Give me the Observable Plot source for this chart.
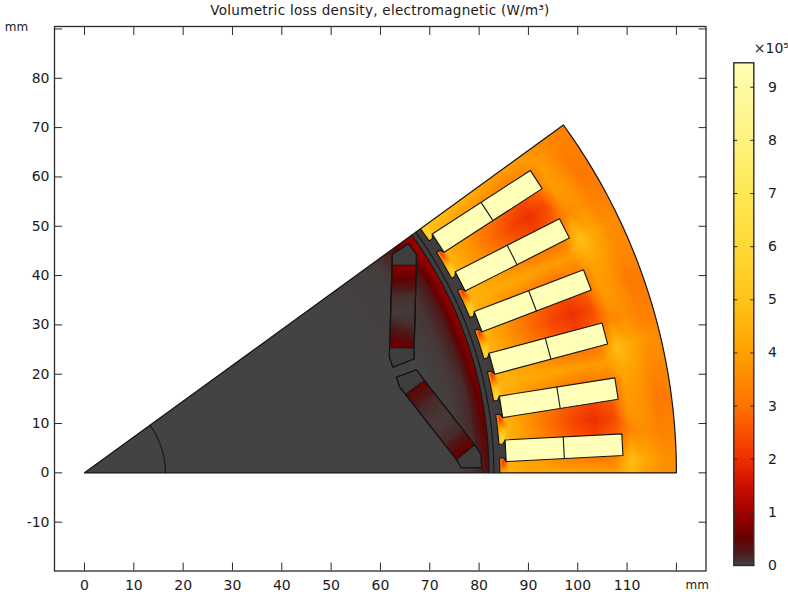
<!DOCTYPE html>
<html>
<head>
<meta charset="utf-8">
<script src="https://cdn.jsdelivr.net/npm/d3@7"></script>
<script src="https://cdn.jsdelivr.net/npm/@observablehq/plot@0.6"></script>
<style>
  html, body { margin: 0; padding: 0; background: #fff; }
  #page { position: relative; width: 788px; height: 592px; overflow: hidden; font-family: "DejaVu Sans", sans-serif; color: #1a1a1a; }
  #title { position: absolute; left: 0; top: 0; width: 760px; text-align: center; font-size: 13.5px; line-height: 20px; letter-spacing: .28px; }
  #main, #bar { position: absolute; top: 0; }
  #main { left: 0; } #bar { left: 722px; }
  svg { display: block; }
</style>
</head>
<body>
<div id="page"><div id="title">Volumetric loss density, electromagnetic (W/m³)</div><div id="main"></div><div id="bar"></div></div>
<script>
// ---------- Loss density (units of 1e5 W/m³) ----------
const toothAngles = [0, 3, 6, 9, 12, 15, 18, 21, 24, 27, 30, 33, 36];
const toothRadii = [84.2, 86, 90, 95, 100, 104, 108];
const toothValues = [
  [4.3, 4.3, 4.3, 4.3, 4.3, 4.3, 4.3, 4.3, 4.3, 4.3, 4.3, 4.3, 4.7],
  [4.4, 4.4, 4.5, 4.4, 4.5, 4.4, 4.5, 4.4, 4.5, 4.4, 4.5, 4.4, 4.9],
  [4.1, 3.9, 3.8, 3.9, 4.3, 3.9, 3.8, 3.9, 4.3, 3.9, 3.8, 4.0, 4.7],
  [4.1, 3.2, 2.9, 3.1, 4.2, 3.2, 2.9, 3.1, 4.2, 3.2, 2.9, 3.4, 4.5],
  [4.0, 2.7, 2.3, 2.7, 4.0, 2.7, 2.3, 2.7, 4.0, 2.7, 2.3, 2.9, 4.2],
  [4.0, 2.5, 2.0, 2.5, 3.9, 2.5, 2.0, 2.5, 3.9, 2.5, 2.0, 2.7, 4.0],
  [4.0, 2.9, 2.4, 2.9, 3.9, 2.9, 2.4, 2.9, 3.9, 2.9, 2.4, 3.1, 3.9]
];
const yokeAngles = [0, 1.5, 4.5, 7.5, 10.5, 13.5, 16.5, 19.5, 22.5, 25.5, 28.5, 31.5, 34.5, 36];
const yokeRadii = [111, 114, 117, 120.5];
const yokeValues = [
  [4.6, 4.8, 3.4, 3.9, 4.1, 4.8, 3.4, 3.9, 4.1, 4.9, 3.5, 3.9, 3.9, 3.7],
  [3.9, 4.2, 3.6, 3.7, 3.9, 4.2, 3.6, 3.7, 3.9, 4.2, 3.7, 3.7, 3.6, 3.5],
  [3.6, 3.7, 3.3, 3.1, 3.4, 3.7, 3.3, 3.1, 3.5, 3.6, 3.3, 3.1, 3.3, 3.3],
  [3.5, 3.6, 3.4, 3.2, 3.4, 3.5, 3.3, 3.2, 3.4, 3.5, 3.3, 3.2, 3.3, 3.3]
];
const slotAngles = [3, 9, 15, 21, 27, 33];
const tipHigh = 6.2, tipLow = 2.0;

const rotorAngles = [0, 6, 12, 18, 24, 30, 36];
const rotorRadii = [0, 60, 72, 76, 79, 81, 82.5];
const rotorValues = [
  [0, 0, 0, 0, 0, 0, 0],
  [0, 0, 0, 0, 0, 0, 0],
  [0, 0, 0, 0, 0.02, 0.02, 0.03],
  [0.02, 0.04, 0.04, 0.06, 0.08, 0.08, 0.2],
  [0.08, 0.15, 0.15, 0.22, 0.25, 0.3, 0.65],
  [0.28, 0.42, 0.5, 0.65, 0.72, 0.78, 0.9],
  [0.42, 0.6, 0.72, 0.95, 1.05, 1.05, 1.05]
];

// magnet samples: [x mm, y mm, value]
const upperMagnetSamples = [
  [62.4, 42.1, 0.85], [67.3, 42.1, 0.85], [62.3, 39, 0.45], [67.2, 39, 0.45],
  [62.2, 36, 0.12], [67.1, 36, 0.12], [62.1, 33, 0.04], [67, 33, 0.04],
  [62.1, 30, 0.2], [67, 30, 0.12], [62, 27, 0.5], [66.9, 27, 0.35],
  [61.9, 25.3, 0.72], [66.8, 25.3, 0.5]
];
const lowerMagnetSamples = [
  [65.1, 15.9, 0.48], [68.9, 18.75, 0.48], [67.7, 12.6, 0.15], [71.45, 15.5, 0.15],
  [70.25, 9.3, 0.05], [74, 12.2, 0.05], [72.8, 6, 0.15], [76.55, 8.95, 0.15],
  [75.4, 2.7, 0.55], [79.1, 5.7, 0.55]
];

// ---------- Geometry in mm ----------
const sectorAngle = 36, outerR = 120, rotorR = 82, gapR = 83, boreR = 84.2, hubR = 16.4;
const coilInner = 85.5, coilOuter = 109.2, coilDivider = 97.3, coilHalf = 2.2;
const neckHalf = 1.4, neckEnd = 85;
const upperPocket = [[65.7, 46.5], [67.3, 44.3], [66.8, 23.1], [62.5, 21.4], [61.8, 23.6], [62.4, 44.3]];
const upperMagnet = [[62.4, 42.1], [67.3, 42.1], [66.8, 25.3], [61.9, 25.4]];
const lowerPocket = [[63.2, 19.4], [67.3, 20.9], [68.9, 18.75], [79.1, 5.7], [80.4, 3.75], [80.5, 1.05], [76.4, 1.05], [75.4, 2.7], [65.1, 15.9], [63.9, 17.4]];
const lowerMagnet = [[65.1, 15.9], [68.9, 18.75], [79.1, 5.7], [75.4, 2.7]];

// ---------- Colour stops ----------
const barMax = 9.46;
const colorStops = [0, 0.25, 0.5, 1, 1.5, 2, 2.5, 3, 4, 5, 6, 7, 8, 9, barMax];
const colorValues = ["#444242", "#4e1a1a", "#640000", "#a00000", "#cc1000", "#ee3000", "#f85000", "#fd7300", "#ffa000", "#ffc41a", "#ffd935", "#ffe856", "#fff27e", "#fffaa3", "#ffffb4"];
const xTicks = d3.range(0, 121, 10);
const yTicks = d3.range(-10, 91, 10);
const barTicks = d3.range(0, 10);
const baseFill = "#3f3d3d", lineColor = "#161616", coilFill = "#ffffb8";

// ---------- Helpers ----------
const rad = Math.PI / 180;
const pol = (r, a) => [r * Math.cos(a * rad), r * Math.sin(a * rad)];
const local = (u, v, a) => [u * Math.cos(a * rad) - v * Math.sin(a * rad), u * Math.sin(a * rad) + v * Math.cos(a * rad)];
const arc = (r, a0, a1, n = 80) => d3.range(n + 1).map(i => pol(r, a0 + (a1 - a0) * i / n));
const table = (radii, angles, values) => radii.flatMap((r, i) => angles.map((a, j) => {
  const [x, y] = pol(r, a); return {x, y, v: values[i][j]};
}));
const fromTriples = t => t.map(([x, y, v]) => ({x, y, v}));

const statorSamples = [
  ...table(toothRadii, toothAngles, toothValues),
  ...table(yokeRadii, yokeAngles, yokeValues),
  ...slotAngles.flatMap(a => [
    {x: pol(84.9, a + 1.6)[0], y: pol(84.9, a + 1.6)[1], v: tipHigh},
    {x: pol(84.9, a - 1.6)[0], y: pol(84.9, a - 1.6)[1], v: tipLow}
  ])
];
const rotorSamples = table(rotorRadii, rotorAngles, rotorValues);

const sector = [[0, 0], ...arc(outerR, 0, sectorAngle)];
const rotorShape = [[0, 0], ...arc(rotorR, 0, sectorAngle)];
const statorShape = [...arc(outerR, 0, sectorAngle), ...arc(boreR, sectorAngle, 0)];
const coilShape = a => [local(coilInner, -coilHalf, a), local(coilOuter, -coilHalf, a), local(coilOuter, coilHalf, a), local(coilInner, coilHalf, a)];
const notchShape = a => [local(boreR - .3, -neckHalf, a), local(neckEnd, -neckHalf, a), local(coilInner, -coilHalf, a), local(coilInner, coilHalf, a), local(neckEnd, neckHalf, a), local(boreR - .3, neckHalf, a)];
const boreLine = [0, ...slotAngles].flatMap((a, i) => {
  const next = slotAngles[i];
  const start = a === 0 ? 0 : a + Math.asin(neckHalf / boreR) / rad;
  const end = next === undefined ? sectorAngle : next - Math.asin(neckHalf / boreR) / rad;
  const seg = arc(boreR, start, end, 12);
  return next === undefined ? seg : [...seg, local(neckEnd, -neckHalf, next), local(coilInner, -coilHalf, next), local(coilInner, coilHalf, next), local(neckEnd, neckHalf, next)];
});

const xy = {x: d => d[0], y: d => d[1]};
let clipCount = 0;
const clipTo = poly => function (index, scales, values, dimensions, context, next) {
  const g = next(index, scales, values, dimensions, context);
  const id = "clip-shape-" + (++clipCount);
  const line = d3.line().x(d => scales.x(d[0])).y(d => scales.y(d[1]));
  const cp = d3.create("svg:clipPath").attr("id", id);
  cp.append("path").attr("d", line(poly) + "Z");
  g.appendChild(cp.node());
  g.setAttribute("clip-path", `url(#${id})`);
  return g;
};
const field = (samples, poly) => Plot.raster(samples, {x: "x", y: "y", fill: "v", interpolate: "barycentric", pixelSize: 1, render: clipTo(poly)});
const shape = (poly, o = {}) => Plot.line(poly, {...xy, curve: "linear-closed", stroke: lineColor, strokeWidth: 1.1, ...o});
const path = (poly, o = {}) => Plot.line(poly, {...xy, stroke: lineColor, strokeWidth: 1.1, ...o});
const colorScale = {type: "linear", domain: colorStops, range: colorValues, clamp: true};
const axisFont = {fontSize: 14, fill: "#1a1a1a"};
const xLabel = d => d === 120 ? "" : String(d);
const yLabel = d => d === 90 ? "" : String(d);

const main = Plot.plot({
  width: 788, height: 592,
  marginLeft: 54, marginRight: 82.5, marginTop: 26, marginBottom: 21.5,
  style: {fontFamily: "'DejaVu Sans', sans-serif", background: "transparent", overflow: "visible"},
  x: {domain: [-6.08, 126], label: null},
  y: {domain: [-19.9, 90.5], label: null},
  color: colorScale,
  marks: [
    shape(sector, {fill: baseFill, stroke: "none"}),
    field(statorSamples, statorShape),
    field(rotorSamples, rotorShape),
    shape(upperPocket, {fill: baseFill}),
    shape(lowerPocket, {fill: baseFill}),
    field(fromTriples(upperMagnetSamples), upperMagnet),
    field(fromTriples(lowerMagnetSamples), lowerMagnet),
    shape(upperPocket),
    shape(lowerPocket),
    shape(upperMagnet),
    shape(lowerMagnet),
    ...slotAngles.map(a => shape(notchShape(a), {fill: baseFill, stroke: "none"})),
    path(arc(rotorR, 0, sectorAngle)),
    path(arc(gapR, 0, sectorAngle)),
    path(boreLine),
    ...slotAngles.map(a => shape(coilShape(a), {fill: coilFill})),
    ...slotAngles.map(a => path([local(coilDivider, -coilHalf, a), local(coilDivider, coilHalf, a)])),
    path(arc(hubR, 0, sectorAngle)),
    shape(sector, {strokeWidth: 1.2}),
    Plot.frame({stroke: "#2a2a2a", strokeWidth: 1.3}),
    Plot.axisX({ticks: xTicks, anchor: "bottom", tickSize: -8, tickPadding: 17, tickFormat: xLabel, stroke: "#2a2a2a", ...axisFont}),
    Plot.axisX({ticks: xTicks, anchor: "top", tickSize: -8, tickFormat: () => "", stroke: "#2a2a2a"}),
    Plot.axisY({ticks: yTicks, anchor: "left", tickSize: -8, tickPadding: 13, tickFormat: yLabel, stroke: "#2a2a2a", ...axisFont}),
    Plot.axisY({ticks: yTicks, anchor: "right", tickSize: -8, tickFormat: () => "", stroke: "#2a2a2a"}),
    Plot.text(["mm"], {frameAnchor: "top-left", dx: -38, dy: -4, fontSize: 12, fill: "#1a1a1a", textAnchor: "middle"}),
    Plot.text(["mm"], {frameAnchor: "bottom-right", dx: 3, dy: 18, fontSize: 12, fill: "#1a1a1a"})
  ]
});
document.getElementById("main").appendChild(main);

const bar = Plot.plot({
  width: 66, height: 592,
  marginLeft: 11.3, marginRight: 34.7, marginTop: 62.3, marginBottom: 27,
  style: {fontFamily: "'DejaVu Sans', sans-serif", background: "transparent", overflow: "visible"},
  x: {domain: [0, 1], axis: null},
  y: {domain: [0, barMax], label: null},
  color: colorScale,
  marks: [
    Plot.raster({x1: 0, x2: 1, y1: 0, y2: barMax, fill: (x, y) => y, pixelSize: 1}),
    Plot.frame({stroke: "#2a2a2a", strokeWidth: 1.4}),
    Plot.axisY({ticks: barTicks.slice(1), anchor: "left", tickSize: -4, tickFormat: () => "", stroke: "#2a2a2a"}),
    Plot.axisY({ticks: barTicks.slice(1), anchor: "right", tickSize: -4, tickFormat: () => "", stroke: "#2a2a2a"}),
    Plot.text(barTicks, {y: d => d, text: d => String(d), frameAnchor: "right", dx: 23, fontSize: 14, fill: "#1a1a1a"}),
    Plot.text(["×10⁵"], {frameAnchor: "top-left", dx: 20, dy: -20, fontSize: 14, fill: "#1a1a1a", textAnchor: "start"})
  ]
});
document.getElementById("bar").appendChild(bar);
</script>
</body>
</html>
